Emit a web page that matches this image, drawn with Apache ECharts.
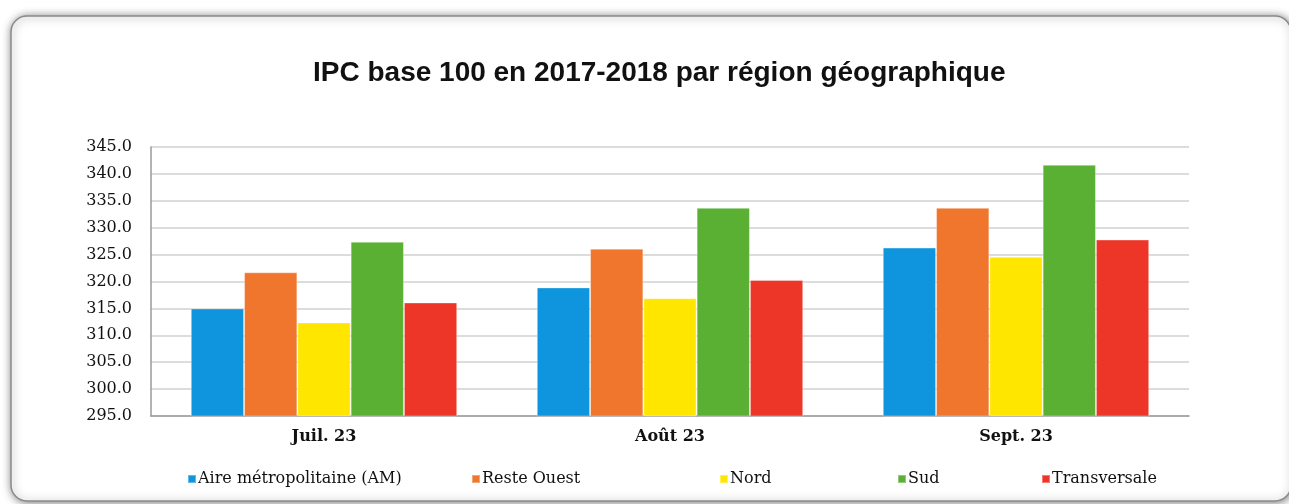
<!DOCTYPE html>
<html>
<head>
<meta charset="utf-8">
<script src="https://cdn.jsdelivr.net/npm/echarts@6/dist/echarts.min.js"></script>
<style>
  html, body { margin: 0; padding: 0; background: #fff; }
  #chart { width: 1289px; height: 504px; }
</style>
</head>
<body>
<div id="chart"></div>
<script>
const categories = ['Juil. 23', 'Août 23', 'Sept. 23']
const seriesNames = ['Aire métropolitaine (AM)', 'Reste Ouest', 'Nord', 'Sud', 'Transversale']
const aireMetro = [315.0, 318.9, 326.3]
const resteOuest = [321.7, 326.1, 333.7]
const nord = [312.4, 316.9, 324.6]
const sud = [327.4, 333.7, 341.7]
const transversale = [316.1, 320.3, 327.8]
const colors = ['#0e95dd', '#ef762c', '#ffe600', '#5ab033', '#ee3628']

const values = [aireMetro, resteOuest, nord, sud, transversale]
const serif = '"DejaVu Serif", "Liberation Serif", serif'
// légende : une entrée par composant pour caler les positions
const legendLeft = [182, 466, 714, 892, 1036]

const chart = echarts.init(document.getElementById('chart'), null, { renderer: 'canvas' })

chart.setOption({
  animation: false,
  backgroundColor: '#fff',
  graphic: [{
    type: 'rect',
    z: -10,
    shape: { x: 11, y: 16, width: 1280, height: 485, r: 16 },
    style: {
      fill: '#fff', stroke: '#8a8a8a', lineWidth: 1.5,
      shadowBlur: 8, shadowColor: 'rgba(0,0,0,0.5)', shadowOffsetX: 1, shadowOffsetY: 1
    }
  }],
  title: {
    text: 'IPC base 100 en 2017-2018 par région géographique',
    left: 308,
    top: 54,
    textStyle: {
      fontFamily: '"Liberation Sans", Arial, sans-serif',
      fontSize: 28, fontWeight: 'bold', color: '#111'
    }
  },
  legend: seriesNames.map((name, i) => ({
    left: legendLeft[i],
    top: 466,
    itemWidth: 8,
    itemHeight: 8,
    icon: 'rect',
    textStyle: { fontFamily: serif, fontSize: 16, color: '#111', padding: [0, 0, 0, -3] },
    data: [name]
  })),
  grid: { left: 151, right: 100, top: 147, bottom: 88 },
  xAxis: {
    type: 'category',
    data: categories,
    axisLine: { lineStyle: { color: '#9a9a9a', width: 1.5 } },
    axisTick: { show: false },
    axisLabel: { fontFamily: serif, fontSize: 16, fontWeight: 'bold', color: '#111', margin: 13 }
  },
  yAxis: {
    type: 'value',
    min: 295,
    max: 345,
    interval: 5,
    axisLine: { show: true, lineStyle: { color: '#9a9a9a', width: 1.5 } },
    axisTick: { show: false },
    axisLabel: {
      fontFamily: serif, fontSize: 16, color: '#111', margin: 19,
      formatter: v => v.toFixed(1)
    },
    splitLine: { lineStyle: { color: '#d0d0d0', width: 1.5 } }
  },
  series: seriesNames.map((name, i) => ({
    name,
    type: 'bar',
    data: values[i],
    barGap: '0%',
    barCategoryGap: '23%',
    itemStyle: { color: colors[i], borderColor: 'rgba(255,255,255,0.35)', borderWidth: 1 }
  }))
})

window.addEventListener('resize', () => chart.resize())
</script>
</body>
</html>
